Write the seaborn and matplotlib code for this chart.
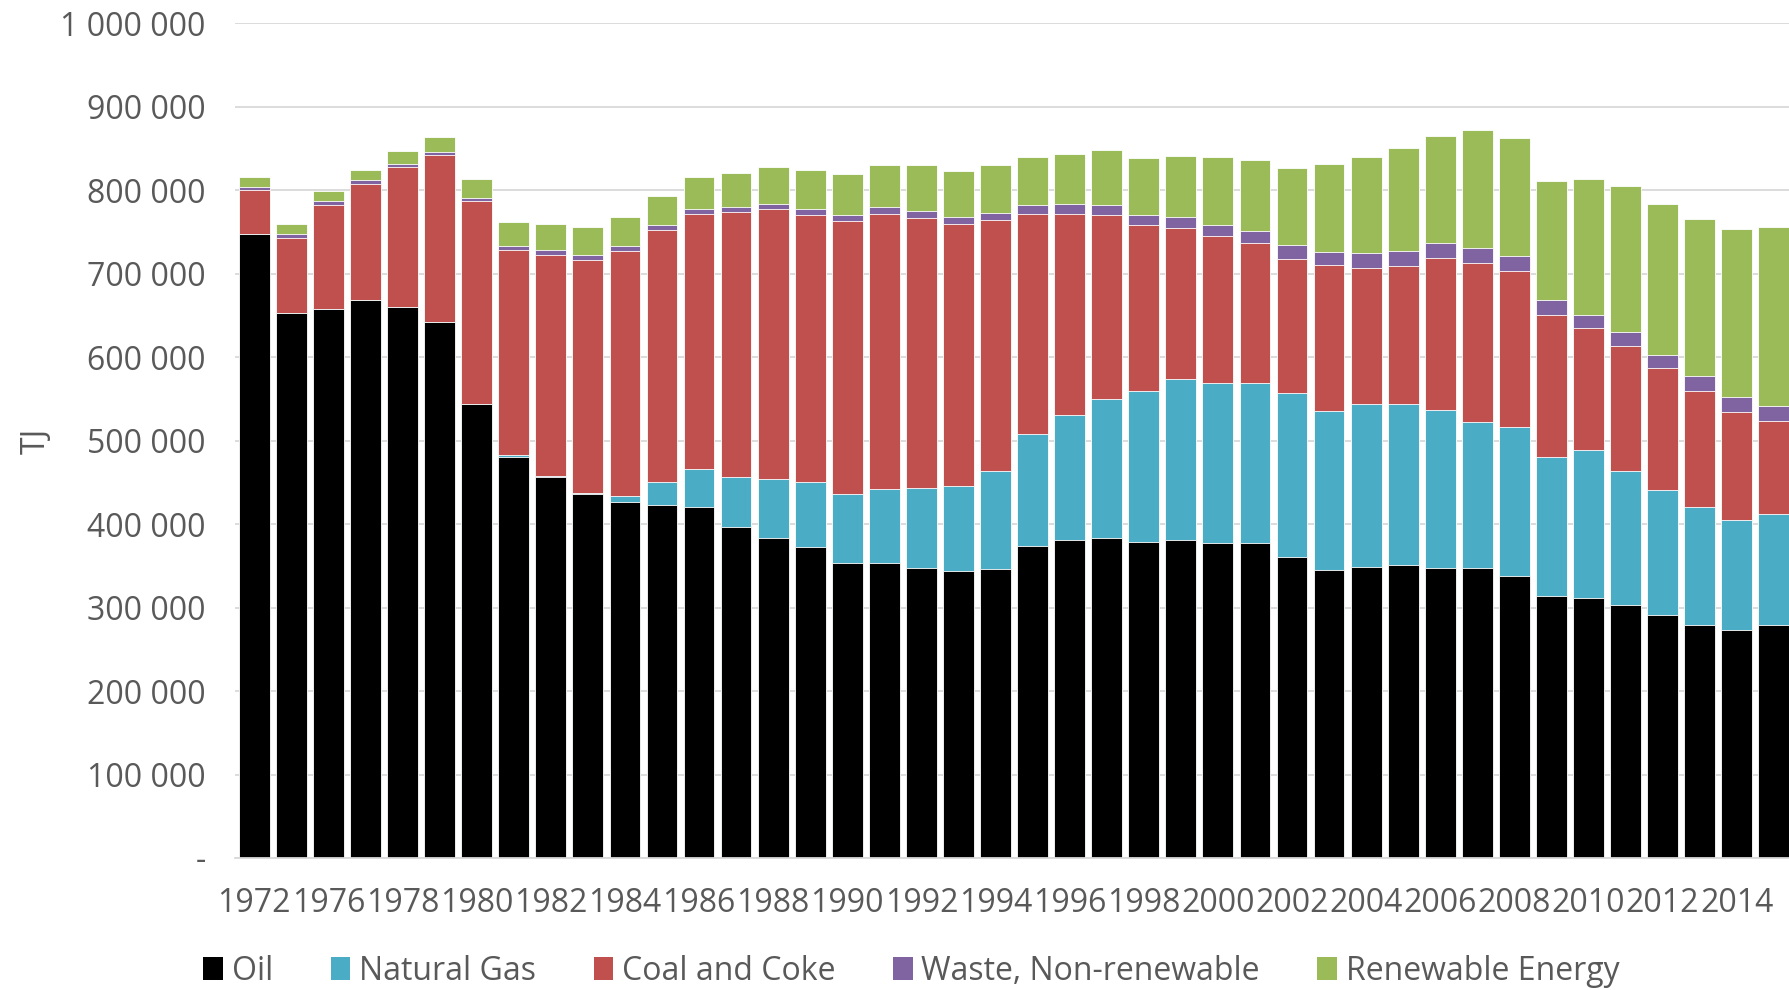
import matplotlib
matplotlib.use("Agg")
import matplotlib.pyplot as plt
import seaborn as sns
import numpy as np
from matplotlib.patches import Patch

# ---------------- data (thousand TJ) ----------------
years = ["1972", "1975", "1976", "1977", "1978", "1979", "1980", "1981", "1982", "1983",
         "1984", "1985", "1986", "1987", "1988", "1989", "1990", "1991", "1992", "1993",
         "1994", "1995", "1996", "1997", "1998", "1999", "2000", "2001", "2002", "2003",
         "2004", "2005", "2006", "2007", "2008", "2009", "2010", "2011", "2012", "2013",
         "2014", "2015"]

oil = [748, 653, 658, 668, 660, 642, 544, 481, 457, 436,
       426, 423, 420, 396, 383, 373, 354, 354, 348, 344,
       346, 374, 381, 383, 379, 381, 377, 377, 361, 345,
       349, 351, 347, 347, 338, 314, 312, 303, 291, 279,
       273, 279]
natural_gas = [0, 0, 0, 0, 0, 0, 0, 2, 1, 1,
               7.5, 28, 46.5, 60, 71, 78, 82, 88, 95, 102,
               118, 134, 150, 167, 181, 193, 192, 192, 196, 190,
               195, 193, 190, 175, 178, 166, 177, 161, 150, 141,
               132, 133]
coal_coke = [52, 90, 124, 140, 168, 200, 243, 246, 264, 279,
             294, 301, 305, 318, 323, 319, 327, 329, 324, 313,
             300, 264, 241, 220, 198, 181, 176, 168, 161, 175,
             163, 165, 182, 191, 187, 171, 146, 149, 146, 140,
             129, 111]
waste = [4, 4, 5, 4, 4, 4, 4, 4, 6, 6,
         6, 6, 6, 6, 6, 7, 7, 9, 8, 9,
         9, 10, 11, 12, 12, 13, 13, 14, 16, 16,
         18, 18, 18, 18, 18, 18, 16, 17, 16, 18,
         18, 18]
renewable = [12, 12, 12, 12, 15, 18, 23, 29, 32, 34,
             35, 35, 38, 41, 45, 47, 49, 50, 55, 55,
             57, 58, 60, 66, 69, 73, 82, 85, 93, 105,
             115, 124, 128, 141, 142, 142, 163, 175, 180, 188,
             201, 215]

series_names = ["Oil", "Natural Gas", "Coal and Coke", "Waste, Non-renewable", "Renewable Energy"]
series_colors = ["#000000", "#4BACC6", "#C0504D", "#8064A2", "#9BBB59"]

y_ticks = [0, 100000, 200000, 300000, 400000, 500000, 600000, 700000, 800000, 900000, 1000000]
y_tick_labels = ["-", "100 000", "200 000", "300 000", "400 000", "500 000",
                 "600 000", "700 000", "800 000", "900 000", "1 000 000"]

# ---------------- style ----------------
sns.set_theme(style="white")
plt.rcParams['font.family'] = ['Open Sans', 'DejaVu Sans']
text_color = "#595959"
fs = 23

fig = plt.figure(figsize=(17.89, 9.9), dpi=100)
W, H = 1789, 990
ax = fig.add_axes([235 / W, 1 - 858 / H, 1 - 235 / W, (858 - 23.3) / H])

layers = np.array([oil, natural_gas, coal_coke, waste, renewable], dtype=float) * 1000
cum = np.cumsum(layers, axis=0)

for i in range(len(layers) - 1, -1, -1):
    sns.barplot(x=years, y=cum[i], order=years, color=series_colors[i],
                saturation=1, width=0.83, edgecolor="white", linewidth=0.6,
                ax=ax, zorder=2)

ax.set_xlim(-0.52, 41.41)
ax.set_ylim(0, 1000000)
ax.set_yticks(y_ticks)
ax.set_yticklabels(y_tick_labels)
ax.set_xticks(range(0, len(years), 2))
ax.set_xticklabels(years[::2])

ax.tick_params(axis="both", length=0, labelsize=fs, colors=text_color)
ax.tick_params(axis="y", pad=21)
ax.tick_params(axis="x", pad=21)

ax.yaxis.grid(True, color="#d9d9d9", linewidth=1.3)
ax.xaxis.grid(False)
ax.set_axisbelow(True)
for s in ["left", "right", "top"]:
    ax.spines[s].set_visible(False)
ax.spines["bottom"].set_color("#d9d9d9")
ax.spines["bottom"].set_linewidth(1.3)

ax.set_xlabel("")
ax.set_ylabel("TJ", fontsize=fs, color=text_color)
ax.yaxis.set_label_coords(-0.117, 0.5)

handles = [Patch(facecolor=c, edgecolor="none") for c in series_colors]
fig.legend(handles, series_names, loc="center", bbox_to_anchor=(0.5095, 1 - 971 / H),
           ncol=5, frameon=False, fontsize=fs, handlelength=0.62, handleheight=0.72,
           handletextpad=0.27, columnspacing=1.8, labelcolor=text_color,
           borderpad=0, borderaxespad=0)

fig.savefig("out.png", dpi=100)
